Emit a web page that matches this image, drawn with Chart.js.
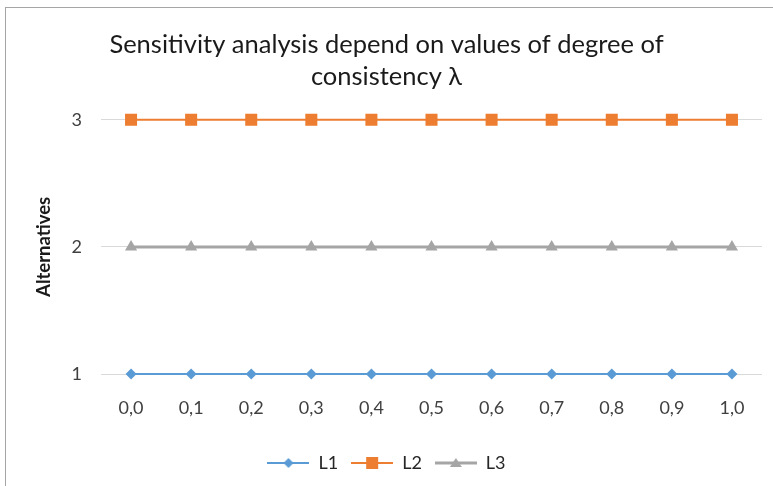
<!DOCTYPE html>
<html>
<head>
<meta charset="utf-8">
<script src="https://cdn.jsdelivr.net/npm/chart.js@4"></script>
<style>
  html, body { margin: 0; padding: 0; background: #fff; }
  #wrap { position: relative; width: 773px; height: 486px; }
  #frame { position: absolute; left: 5px; top: 7px; width: 770px; height: 480px; border: 1px solid #a6a6a6; box-sizing: border-box; }
  canvas { position: absolute; left: 0; top: 0; }
</style>
</head>
<body>
<div id="wrap">
  <div id="frame"></div>
  <canvas id="chart" width="773" height="486"></canvas>
</div>
<script>
// degree of consistency values
const lambdas = ['0,0', '0,1', '0,2', '0,3', '0,4', '0,5', '0,6', '0,7', '0,8', '0,9', '1,0'];
const l1 = [1, 1, 1, 1, 1, 1, 1, 1, 1, 1, 1];
const l2 = [3, 3, 3, 3, 3, 3, 3, 3, 3, 3, 3];
const l3 = [2, 2, 2, 2, 2, 2, 2, 2, 2, 2, 2];
const yTicks = [1, 2, 3];

const FONT = 'Lato, "Open Sans", sans-serif';

function legend_icon(color, style, lw){
  const c = document.createElement('canvas');
  c.width = 42; c.height = 16;
  const g = c.getContext('2d');
  g.strokeStyle = color;
  g.fillStyle = color;
  g.lineWidth = lw;
  g.beginPath();
  g.moveTo(0, 8); g.lineTo(42, 8);
  g.stroke();
  g.beginPath();
  if (style == 'diamond') {
    g.moveTo(21, 3); g.lineTo(26, 8); g.lineTo(21, 13); g.lineTo(16, 8);
  } else if (style == 'square') {
    g.rect(15, 2, 12, 12);
  } else {
    g.moveTo(21, 3); g.lineTo(27, 12); g.lineTo(15, 12);
  }
  g.closePath();
  g.fill();
  return c;
}

const series = [
  { label: 'L1', data: l1, color: '#5b9bd5', style: 'rectRot', icon: 'diamond', radius: 5.5, lw: 2 },
  { label: 'L2', data: l2, color: '#ed7d31', style: 'rect', icon: 'square', radius: 8.5, lw: 2 },
  { label: 'L3', data: l3, color: '#a5a5a5', style: 'triangle', icon: 'triangle', radius: 7, lw: 3 },
];

const datasets = series.map(s => ({
  label: s.label,
  data: s.data,
  borderColor: s.color,
  backgroundColor: s.color,
  borderWidth: s.lw,
  pointStyle: s.style,
  pointRadius: s.radius,
  pointHoverRadius: s.radius,
  pointBorderWidth: 0,
  pointBackgroundColor: s.color,
  clip: false,
  legendIcon: legend_icon(s.color, s.icon, s.lw),
}));

// draw L2 on top like the reference, then L3, then L1
datasets[0].order = 2;
datasets[1].order = 0;
datasets[2].order = 1;

new Chart(document.getElementById('chart'), {
  type: 'line',
  data: { labels: lambdas, datasets: datasets },
  options: {
    responsive: false,
    animation: false,
    layout: { padding: { left: 11, right: 11, top: 0, bottom: 4 } },
    plugins: {
      title: {
        display: true,
        text: ['Sensitivity analysis depend on values of degree of', 'consistency \u03bb'],
        color: '#1a1a1a',
        font: { family: FONT, size: 25.5, weight: 'normal', lineHeight: 1.25 },
        padding: { top: 29, bottom: 27 },
      },
      legend: {
        position: 'bottom',
        labels: {
          usePointStyle: true,
          pointStyleWidth: 42,
          color: '#262626',
          font: { family: FONT, size: 18 },
          padding: 13,
          generateLabels: chart => chart.data.datasets.map((ds, i) => ({
            text: ds.label,
            pointStyle: ds.legendIcon,
            datasetIndex: i,
            fontColor: '#262626',
            lineWidth: 0,
            strokeStyle: 'transparent',
            fillStyle: ds.borderColor,
          })),
        },
      },
      tooltip: { enabled: false },
    },
    scales: {
      x: {
        offset: true,
        grid: { display: false },
        border: { display: false },
        ticks: { color: '#404040', font: { family: FONT, size: 18 }, padding: 15 },
        afterFit: axis => { axis.height = 67; },
      },
      y: {
        min: 1,
        max: 3,
        afterBuildTicks: axis => { axis.ticks = yTicks.map(v => ({ value: v })); },
        grid: { color: '#d9d9d9', lineWidth: 1, drawTicks: false },
        border: { display: false },
        ticks: { color: '#404040', font: { family: FONT, size: 18 }, padding: 19 },
        title: {
          display: true,
          text: 'Alternatives',
          color: '#1a1a1a',
          font: { family: FONT, size: 18.5, weight: 'bold' },
          padding: { top: 22, bottom: 0 },
        },
        afterFit: axis => { axis.width = 90; },
      },
    },
  },
});
</script>
</body>
</html>
